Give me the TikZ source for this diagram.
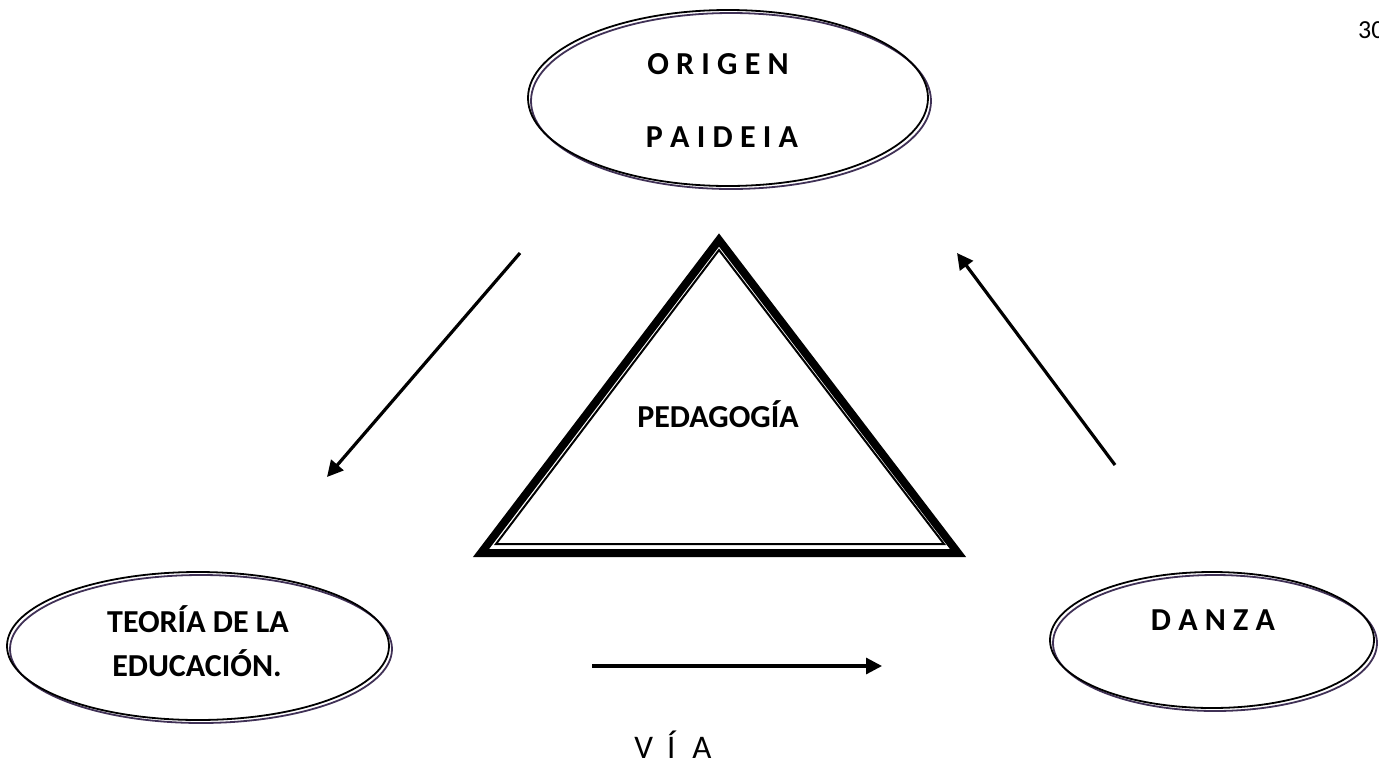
\documentclass[tikz,border=0pt]{standalone}
\usepackage{fontspec}
\setmainfont{Carlito}
\usetikzlibrary{shapes.geometric,arrows.meta}
\definecolor{rim}{RGB}{64,49,86}
\tikzset{
  bubble/.style={ellipse, draw, line width=1.8pt, inner sep=0pt},
  halo/.style={ellipse, draw=rim, line width=1.8pt, inner sep=0pt},
  word/.style={anchor=base, inner sep=0pt, font=\fontsize{32}{38}\selectfont\bfseries},
  flow/.style={line width=3.2pt, -{Triangle[length=16pt,width=16pt]}}
}
\begin{document}
\begin{tikzpicture}[x=1pt,y=-1pt]
  \useasboundingbox (0,0) rectangle (1379,761);
  \draw
    (731,101) node[halo, minimum width=400pt, minimum height=176pt] (origenh){}
    (728,98) node[bubble, minimum width=400pt, minimum height=176pt] (origen){}
    (201,649) node[halo, minimum width=382pt, minimum height=148pt] (teoriah){}
    (198,646) node[bubble, minimum width=382pt, minimum height=148pt] (teoria){}
    (1215,643) node[halo, minimum width=324pt, minimum height=136pt] (danzah){}
    (1212,640) node[bubble, minimum width=324pt, minimum height=136pt] (danza){};
  \draw
    (718,74) node[word] (w1){O R I G E N}
    (722,147) node[word] (w2){P A I D E I A}
    (198,632) node[word] (w3){TEORÍA DE LA}
    (197,676) node[word] (w4){EDUCACIÓN.}
    (1213,630) node[word] (w5){D A N Z A}
    (718,427) node[word] (w6){PEDAGOGÍA}
    (673,758) node[anchor=base, inner sep=0pt, font=\fontsize{33}{38}\selectfont] (via){V\hspace{14pt}Í\hspace{17pt}A}
    (1358,38) node[anchor=base west, inner sep=0pt, font=\fontsize{26}{30}\selectfont] (page){30};
  \draw[line width=8pt, miter limit=10] (719,240) -- (958,553) -- (481,553) -- cycle;
  \draw[line width=2pt] (719,250) -- (944,544) -- (496,544) -- cycle;
  \coordinate (a0) at (520,253);
  \coordinate (a1) at (327,477);
  \coordinate (b0) at (1115,465);
  \coordinate (b1) at (957,253);
  \coordinate (c0) at (592,666);
  \coordinate (c1) at (882,666);
  \begin{scope}[flow]
    \draw (a0) to (a1);
    \draw (b0) to (b1);
    \draw (c0) to (c1);
  \end{scope}
\end{tikzpicture}
\end{document}
